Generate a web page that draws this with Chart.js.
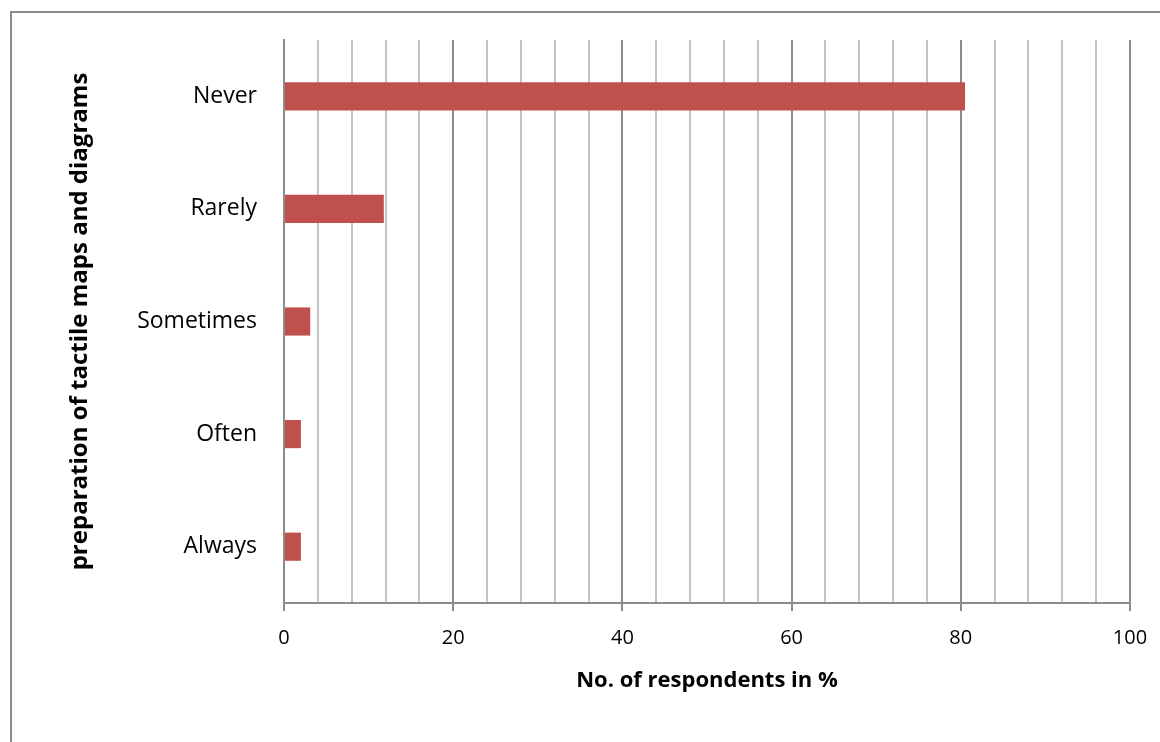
<!DOCTYPE html>
<html>
<head>
<meta charset="utf-8">
<script src="https://cdn.jsdelivr.net/npm/chart.js@4"></script>
<style>
  html, body { margin: 0; padding: 0; background: #fff; overflow: hidden; }
  #frame { position: absolute; left: 10px; top: 11px; width: 1300px; height: 900px; border: 2px solid #8c8c8c; }
  #wrap { position: absolute; left: 0; top: 0; width: 1160px; height: 742px; }
</style>
</head>
<body>
<div id="frame"></div>
<div id="wrap"><canvas id="chart"></canvas></div>
<script>
const categories = ['Never', 'Rarely', 'Sometimes', 'Often', 'Always'];
const respondents = [80.5, 11.8, 3.1, 2.0, 2.0];
const xTitle = 'No. of respondents in %';
const yTitle = 'preparation of tactile maps and diagrams';

const font = 'Open Sans';

new Chart(document.getElementById('chart'), {
  type: 'bar',
  data: {
    labels: categories,
    datasets: [{
      data: respondents,
      backgroundColor: '#c0504d',
      borderWidth: 0,
      categoryPercentage: 1,
      barPercentage: 0.25
    }]
  },
  options: {
    indexAxis: 'y',
    responsive: true,
    maintainAspectRatio: false,
    animation: false,
    layout: { padding: { left: 62, top: 40, right: 30, bottom: 44 } },
    plugins: { legend: { display: false }, tooltip: { enabled: false } },
    scales: {
      x: {
        min: 0,
        max: 100,
        afterFit: s => {
          s.height = 95;
          s.paddingLeft = 0;
          s.paddingRight = 0;
        },
        ticks: {
          stepSize: 4,
          autoSkip: false,
          maxRotation: 0,
          padding: 15,
          color: '#000',
          font: { family: font, size: 20 },
          callback: v => (v % 20 === 0 ? v : '')
        },
        grid: {
          lineWidth: 2,
          tickLength: 8,
          color: c => (c.tick && c.tick.value % 20 === 0 ? '#8c8c8c' : '#c4c4c4'),
          tickColor: c => (c.tick && c.tick.value % 20 === 0 ? '#8c8c8c' : 'rgba(0,0,0,0)')
        },
        border: { color: '#8c8c8c', width: 2 },
        title: {
          display: true,
          text: xTitle,
          color: '#000',
          font: { family: font, size: 22, weight: 'bold' },
          padding: { top: 4, bottom: 4 }
        }
      },
      y: {
        afterFit: s => { s.width = 222; },
        grid: { display: false },
        border: { color: '#8c8c8c', width: 2 },
        ticks: {
          padding: 19,
          color: '#000',
          font: { family: font, size: 23 }
        },
        title: {
          display: true,
          text: yTitle,
          color: '#000',
          font: { family: font, size: 24, weight: 'bold' },
          padding: { top: 4, bottom: 4 }
        }
      }
    }
  }
});
</script>
</body>
</html>
